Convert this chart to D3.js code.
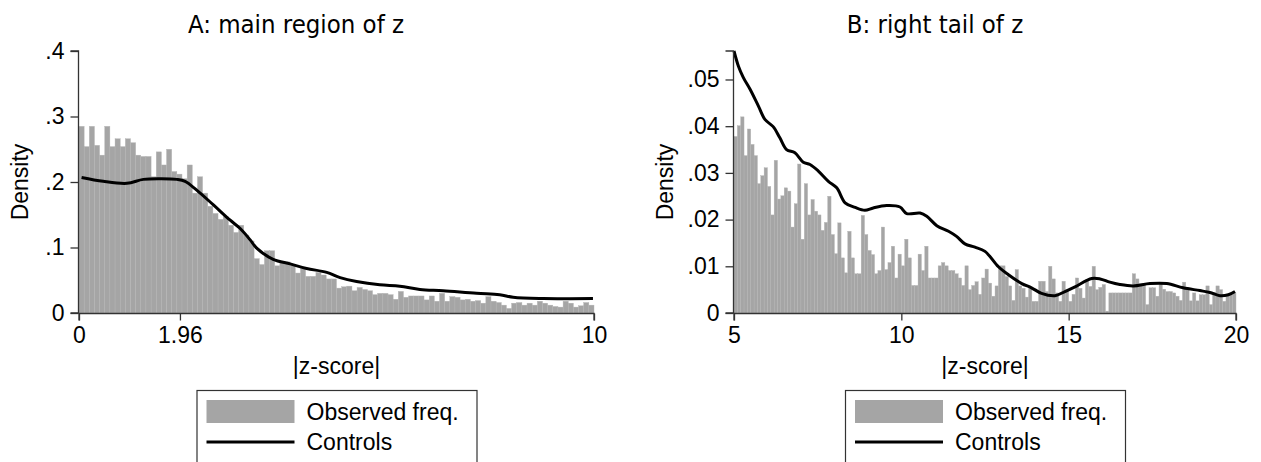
<!DOCTYPE html>
<html>
<head>
<meta charset="utf-8">
<script src="https://cdn.jsdelivr.net/npm/d3@7/dist/d3.min.js"></script>
<style>
  html, body { margin: 0; padding: 0; background: #ffffff; }
  svg { display: block; }
  .tick text, .lab, .leg { font-family: "Liberation Sans", Arial, sans-serif; fill: #000; }
  .ttl { font-family: "DejaVu Sans Condensed", "DejaVu Sans", sans-serif; fill: #000; }
</style>
</head>
<body>
<svg id="chart" width="1261" height="462"></svg>
<script>
// Panel A: histogram of |z| on [0, 10], bin width 0.1
const binWidth = 0.1;
const histA = [
  0.285, 0.254, 0.285, 0.256, 0.241, 0.285, 0.254, 0.266, 0.254, 0.266,
  0.260, 0.241, 0.239, 0.239, 0.208, 0.246, 0.226, 0.250, 0.216, 0.212,
  0.205, 0.226, 0.183, 0.208, 0.183, 0.163, 0.152, 0.143, 0.147, 0.134,
  0.123, 0.134, 0.119, 0.110, 0.083, 0.074, 0.095, 0.095, 0.072, 0.078,
  0.078, 0.073, 0.061, 0.068, 0.056, 0.056, 0.062, 0.058, 0.052, 0.052,
  0.038, 0.040, 0.041, 0.034, 0.039, 0.036, 0.034, 0.028, 0.030, 0.030,
  0.028, 0.021, 0.033, 0.024, 0.026, 0.026, 0.026, 0.020, 0.026, 0.018,
  0.030, 0.018, 0.025, 0.024, 0.020, 0.021, 0.018, 0.019, 0.015, 0.025,
  0.018, 0.016, 0.012, 0.007, 0.015, 0.016, 0.012, 0.015, 0.012, 0.018,
  0.015, 0.012, 0.010, 0.009, 0.018, 0.015, 0.009, 0.011, 0.016, 0.012
];

// Panel A: controls density (z, density)
const controlsA = [
  [0.05, 0.207], [0.47, 0.201], [0.93, 0.198], [1.25, 0.204], [1.60, 0.205],
  [1.90, 0.204], [2.06, 0.201], [2.28, 0.188], [2.61, 0.165], [2.93, 0.142],
  [3.13, 0.129], [3.32, 0.112], [3.45, 0.099], [3.77, 0.082], [4.10, 0.075],
  [4.42, 0.068], [4.81, 0.062], [5.07, 0.054], [5.39, 0.048], [5.84, 0.043],
  [6.23, 0.041], [6.62, 0.036], [7.07, 0.034], [7.72, 0.030], [8.17, 0.028],
  [8.43, 0.024], [9.02, 0.022], [9.98, 0.022]
];

// Panel B: histogram of |z| on [5, 20], bin width 0.1
const histB = [
  0.0378, 0.0401, 0.0420, 0.0337, 0.0394, 0.0361, 0.0337, 0.0277, 0.0294, 0.0311,
  0.0271, 0.0210, 0.0327, 0.0244, 0.0251, 0.0268, 0.0261, 0.0184, 0.0234, 0.0319,
  0.0158, 0.0277, 0.0210, 0.0243, 0.0218, 0.0210, 0.0177, 0.0194, 0.0250, 0.0168,
  0.0127, 0.0193, 0.0118, 0.0086, 0.0175, 0.0118, 0.0084, 0.0084, 0.0209, 0.0168,
  0.0134, 0.0125, 0.0084, 0.0091, 0.0184, 0.0093, 0.0108, 0.0143, 0.0075, 0.0126,
  0.0101, 0.0158, 0.0118, 0.0059, 0.0059, 0.0126, 0.0091, 0.0143, 0.0075, 0.0075,
  0.0075, 0.0101, 0.0108, 0.0101, 0.0091, 0.0091, 0.0084, 0.0075, 0.0059, 0.0101,
  0.0050, 0.0059, 0.0067, 0.0040, 0.0075, 0.0094, 0.0064, 0.0036, 0.0058, 0.0101,
  0.0101, 0.0078, 0.0058, 0.0027, 0.0093, 0.0058, 0.0053, 0.0034, 0.0055, 0.0025,
  0.0025, 0.0068, 0.0068, 0.0046, 0.0100, 0.0073, 0.0043, 0.0025, 0.0068, 0.0050,
  0.0025, 0.0040, 0.0075, 0.0053, 0.0032, 0.0071, 0.0057, 0.0100, 0.0050, 0.0055,
  0.0061, 0.0004, 0.0043, 0.0043, 0.0043, 0.0043, 0.0043, 0.0043, 0.0043, 0.0084,
  0.0073, 0.0063, 0.0063, 0.0018, 0.0054, 0.0054, 0.0036, 0.0064, 0.0051, 0.0046,
  0.0046, 0.0043, 0.0036, 0.0027, 0.0066, 0.0051, 0.0026, 0.0043, 0.0026, 0.0039,
  0.0039, 0.0058, 0.0018, 0.0044, 0.0058, 0.0050, 0.0025, 0.0039, 0.0039, 0.0043
];

// Panel B: controls density (z, density)
const controlsB = [
  [5.00, 0.0561], [5.13, 0.0529], [5.28, 0.0504], [5.48, 0.0479], [5.73, 0.0443],
  [5.93, 0.0414], [6.17, 0.0399], [6.37, 0.0375], [6.57, 0.0350], [6.82, 0.0343],
  [7.07, 0.0323], [7.27, 0.0318], [7.52, 0.0304], [7.82, 0.0282], [8.07, 0.0268],
  [8.32, 0.0236], [8.62, 0.0226], [8.91, 0.0220], [9.16, 0.0225], [9.56, 0.0230],
  [9.96, 0.0227], [10.16, 0.0213], [10.56, 0.0214], [10.76, 0.0207], [11.06, 0.0187],
  [11.41, 0.0175], [11.65, 0.0164], [11.90, 0.0148], [12.20, 0.0141], [12.50, 0.0132],
  [12.90, 0.0099], [13.20, 0.0082], [13.60, 0.0063], [13.89, 0.0054], [14.19, 0.0042],
  [14.59, 0.0037], [14.89, 0.0046], [15.19, 0.0056], [15.69, 0.0074], [15.94, 0.0073],
  [16.23, 0.0066], [16.53, 0.0061], [16.93, 0.0058], [17.43, 0.0063], [17.93, 0.0063],
  [18.42, 0.0054], [18.92, 0.0048], [19.22, 0.0044], [19.52, 0.0037], [19.77, 0.0039],
  [19.97, 0.0046]
];

// Axis ticks
const xTicksA = [0, 1.96, 10];
const xTickLabelsA = ["0", "1.96", "10"];
const yTicksA = [0, 0.1, 0.2, 0.3, 0.4];
const xTicksB = [5, 10, 15, 20];
const yTicksB = [0, 0.01, 0.02, 0.03, 0.04, 0.05];

const titles = ["A: main region of z", "B: right tail of z"];
const xLabel = "|z-score|";
const yLabel = "Density";
const legendLabels = ["Observed freq.", "Controls"];

const barColor = "#a5a5a5";
const fontSize = 23;

const svg = d3.select("#chart");

function stripZero(v) {
  return v === 0 ? "0" : String(v).replace(/^0\./, ".");
}

function drawPanel(p) {
  const x = d3.scaleLinear().domain(p.xDomain).range([p.left, p.right]);
  const y = d3.scaleLinear().domain(p.yDomain).range([p.bottom, p.top]);
  const g = svg.append("g");

  // histogram bars
  g.append("g").selectAll("rect")
    .data(p.hist)
    .join("rect")
    .attr("x", (d, i) => x(p.xDomain[0] + i * binWidth))
    .attr("width", (d, i) => x(p.xDomain[0] + (i + 1) * binWidth) - x(p.xDomain[0] + i * binWidth))
    .attr("y", d => y(d))
    .attr("height", d => y(0) - y(d))
    .attr("fill", barColor)
    .attr("stroke", "#b4b4b4")
    .attr("stroke-width", 0.4);

  // controls density line
  g.append("path")
    .datum(p.line)
    .attr("fill", "none")
    .attr("stroke", "#000")
    .attr("stroke-width", 3)
    .attr("stroke-linejoin", "round")
    .attr("d", d3.line().x(d => x(d[0])).y(d => y(d[1])).curve(d3.curveCatmullRom.alpha(0.5)));

  // axes
  const xAxis = d3.axisBottom(x).tickValues(p.xTicks).tickSize(7).tickPadding(6)
    .tickFormat((d, i) => p.xTickLabels ? p.xTickLabels[i] : String(d));
  const gx = g.append("g").attr("transform", `translate(0,${p.bottom + 0.5})`).call(xAxis);
  const yAxis = d3.axisLeft(y).tickValues(p.yTicks).tickSize(8).tickPadding(6).tickFormat(stripZero);
  const gy = g.append("g").attr("transform", `translate(${p.left - 0.5},0)`).call(yAxis);
  [gx, gy].forEach(a => {
    a.select(".domain").attr("stroke", "#333").attr("stroke-width", 1.3);
    a.selectAll(".tick line").attr("stroke", "#333").attr("stroke-width", 1.3);
    a.selectAll(".tick text").style("font-size", fontSize + "px");
  });
  gx.select(".domain").attr("d", `M${p.left},7V0H${p.right}V7`);
  gy.select(".domain").attr("d", `M-8,${p.bottom}H0V${p.top}H-8`);

  // axis titles
  g.append("text").attr("class", "lab")
    .attr("x", (p.left + p.right) / 2).attr("y", 374)
    .attr("text-anchor", "middle").style("font-size", fontSize + "px")
    .text(xLabel);
  g.append("text").attr("class", "lab")
    .attr("transform", `translate(${p.yLabelX},${(p.top + p.bottom) / 2}) rotate(-90)`)
    .attr("text-anchor", "middle").style("font-size", fontSize + "px")
    .text(yLabel);

  // panel title
  g.append("text").attr("class", "ttl")
    .attr("x", p.titleX).attr("y", 33)
    .attr("text-anchor", "middle").style("font-size", "25.5px")
    .text(p.title);

  // legend
  const lx = (p.left + p.right) / 2 - 140;
  const lg = g.append("g").attr("transform", `translate(${lx},390)`);
  lg.append("rect").attr("x", 0.5).attr("y", 0.5).attr("width", 280).attr("height", 90)
    .attr("fill", "#fff").attr("stroke", "#333").attr("stroke-width", 1.2);
  lg.append("rect").attr("x", 10).attr("y", 10).attr("width", 88).attr("height", 23).attr("fill", barColor);
  lg.append("line").attr("x1", 10).attr("x2", 98).attr("y1", 52).attr("y2", 52)
    .attr("stroke", "#000").attr("stroke-width", 3);
  lg.append("text").attr("class", "leg").attr("x", 110).attr("y", 30)
    .style("font-size", fontSize + "px").text(legendLabels[0]);
  lg.append("text").attr("class", "leg").attr("x", 110).attr("y", 60)
    .style("font-size", fontSize + "px").text(legendLabels[1]);
}

drawPanel({
  hist: histA, line: controlsA, xDomain: [0, 10], yDomain: [0, 0.4],
  left: 79, right: 594, top: 51, bottom: 313,
  xTicks: xTicksA, xTickLabels: xTickLabelsA, yTicks: yTicksA,
  yLabelX: 28, title: titles[0], titleX: 296
});

drawPanel({
  hist: histB, line: controlsB, xDomain: [5, 20], yDomain: [0, 0.0561],
  left: 734, right: 1236, top: 51, bottom: 313,
  xTicks: xTicksB, xTickLabels: null, yTicks: yTicksB,
  yLabelX: 673, title: titles[1], titleX: 935
});
</script>
</body>
</html>
